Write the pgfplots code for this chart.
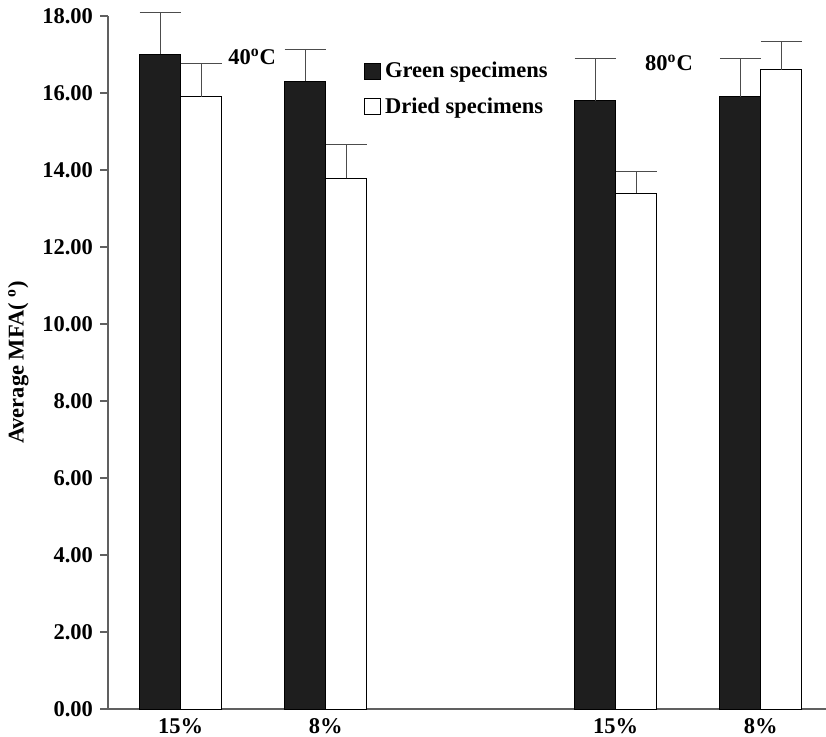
\documentclass[border=0pt]{standalone}
\usepackage{fontspec}
\setmainfont{Liberation Serif}
\usepackage{pgfplots}
\pgfplotsset{compat=1.18}
\definecolor{barblack}{HTML}{1E1E1E}
\definecolor{axgray}{HTML}{606060}
\newcommand{\ff}{\fontsize{11.25}{13.5}\selectfont\bfseries}
\begin{document}
\begin{tikzpicture}
\begin{axis}[
  scale only axis, width=359pt, height=346.5pt,
  xmin=-0.501, xmax=4.45, ymin=0, ymax=18,
  clip=false,
  axis lines*=left,
  axis line style={-, draw=axgray, line width=0.6pt},
  ybar=0pt, bar width=20.5pt,
  xtick={0,1,3,4}, xticklabels={15\%,8\%,15\%,8\%},
  xtick style={draw=none},
  x tick label style={inner ysep=0pt, yshift=-0.5pt},
  ytick={0,2,...,18},
  tick align=outside, major tick length=4pt,
  ytick style={draw=axgray, line width=0.6pt},
  /pgf/number format/fixed, /pgf/number format/fixed zerofill,
  /pgf/number format/precision=2, /pgf/number format/assume math mode=true,
  tick label style={font=\ff},
  label style={font=\ff},
  ylabel={Average MFA(\ \textsuperscript{o})},
  legend style={at={(rel axis cs:0.356,0.940)}, anchor=north west, draw=none, fill=none,
    font=\ff, row sep=4.5pt, inner sep=0pt},
  legend cell align=left,
  legend image code/.code={\draw[#1] (0pt,-4pt) rectangle (8pt,4pt);},
  error bars/y dir=plus, error bars/y explicit,
  error bars/error bar style={draw=black!70, line width=0.5pt},
  error bars/error mark options={draw=black!70, line width=0.5pt, mark size=10.25pt, rotate=90},
]
\addplot[fill=barblack, draw=black, line width=0.5pt] coordinates {
  (0,17.00) +- (0,1.10)
  (1,16.30) +- (0,0.82)
  (3,15.80) +- (0,1.09)
  (4,15.90) +- (0,1.00)
};
\addplot[fill=white, draw=black, line width=0.5pt] coordinates {
  (0,15.90) +- (0,0.87)
  (1,13.78) +- (0,0.87)
  (3,13.40) +- (0,0.55)
  (4,16.60) +- (0,0.75)
};
\legend{Green specimens, Dried specimens}
\node[anchor=west, font=\ff, inner sep=0pt] at (axis cs:0.326,16.94) {40\textsuperscript{o}C};
\node[anchor=west, font=\ff, inner sep=0pt] at (axis cs:3.20,16.78) {80\textsuperscript{o}C};
\coordinate (bl) at (rel axis cs:0,0);
\coordinate (tr) at (rel axis cs:1,1);
\end{axis}
\pgfresetboundingbox
\path ([shift={(-54pt,-13.5pt)}]bl) rectangle ([shift={(0pt,8pt)}]tr);
\end{tikzpicture}
\end{document}
